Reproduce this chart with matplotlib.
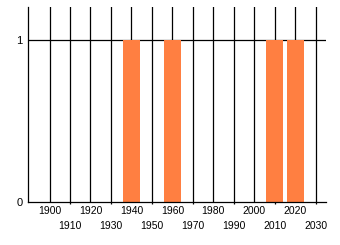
import matplotlib
matplotlib.use('Agg')
import matplotlib.pyplot as plt
import numpy as np

plt.rcParams['font.family'] = ['Liberation Sans', 'DejaVu Sans']

# data
years = [1940, 1960, 2010, 2020]
counts = [1, 1, 1, 1]
even_decades = [1900, 1920, 1940, 1960, 1980, 2000, 2020]
odd_decades = [1910, 1930, 1950, 1970, 1990, 2010, 2030]
y_ticks = [0, 1]

W, H = 340, 245
fig = plt.figure(figsize=(W / 100, H / 100), dpi=100)
# axes box in pixels: left 28, right 326, top 7, bottom 201
ax = fig.add_axes([28 / W, 1 - 201.5 / H, (326 - 28) / W, (201.5 - 7) / H])

ax.bar(years, counts, width=8.2, color='#ff7f41', zorder=3)

ax.set_xlim(1889.5, 2035)
ax.set_ylim(0, 1.207)

# grid lines
for x in even_decades + odd_decades:
    ax.axvline(x, color='black', lw=0.9, zorder=1)
ax.axhline(1, color='black', lw=0.9, zorder=1)

ax.set_xticks(even_decades)
ax.set_xticklabels([str(v) for v in even_decades])
ax.set_xticks(odd_decades, minor=True)
ax.set_xticklabels([str(v) for v in odd_decades], minor=True)
ax.tick_params(axis='x', which='major', length=0, pad=3, labelsize=7.5)
ax.tick_params(axis='x', which='minor', length=1.5, width=0.9, pad=12.5, labelsize=7.5)

ax.set_yticks(y_ticks)
ax.set_yticklabels([str(v) for v in y_ticks])
ax.tick_params(axis='y', length=0, pad=4, labelsize=8)

for s in ['top', 'right']:
    ax.spines[s].set_visible(False)
for s in ['left', 'bottom']:
    ax.spines[s].set_linewidth(0.9)
    ax.spines[s].set_zorder(4)

fig.savefig('out.png', dpi=100)
